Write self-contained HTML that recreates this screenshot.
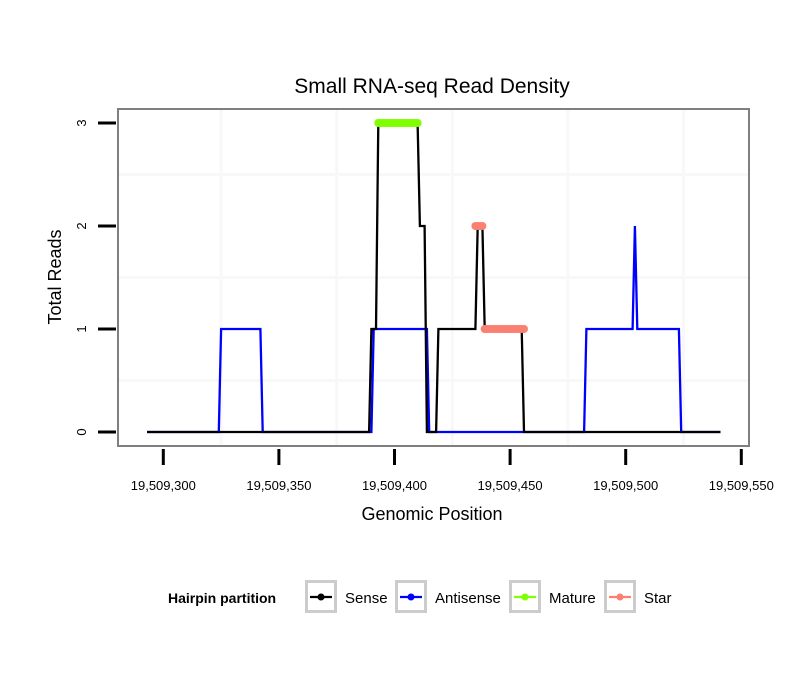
<!DOCTYPE html>
<html><head><meta charset="utf-8"><style>
body{margin:0;background:#fff;}
svg text{font-family:"Liberation Sans",sans-serif;}
</style></head><body>
<svg id="chart" width="810" height="690" xmlns="http://www.w3.org/2000/svg">
<rect width="810" height="690" fill="#fff"/>
<text x="432" y="93" font-size="21" text-anchor="middle">Small RNA-seq Read Density</text>
<g id="grid"></g>
<g id="series"></g>
<rect x="118" y="109" width="631" height="337" fill="none" stroke="#7f7f7f" stroke-width="2"/>
<g id="axes"></g>
<text x="432" y="520" font-size="18" text-anchor="middle">Genomic Position</text>
<text transform="translate(61,277) rotate(-90)" font-size="18" text-anchor="middle">Total Reads</text>
<g id="legend">
<text x="168" y="603" font-size="14" font-weight="bold">Hairpin partition</text>
</g>
</svg>
<script>
const xTicks=[19509300,19509350,19509400,19509450,19509500,19509550];
const yTicks=[0,1,2,3];
const sensePos=[293,389,390,392,393,410,411,413,414,418,419,435,436,438,439,455,456,541];
const senseVal=[0,0,1,1,3,3,2,2,0,0,1,1,2,2,1,1,0,0];
const antiPos=[293,324,325,342,343,390,391,414,415,482,483,503,504,505,523,524,541];
const antiVal=[0,0,1,1,0,0,1,1,0,0,1,1,2,1,1,0,0];
const maturePos=[393,394,395,396,397,398,399,400,401,402,403,404,405,406,407,408,409,410];
const matureVal=[3,3,3,3,3,3,3,3,3,3,3,3,3,3,3,3,3,3];
const starPos=[435,436,437,438,439,440,441,442,443,444,445,446,447,448,449,450,451,452,453,454,455,456];
const starVal=[2,2,2,2,1,1,1,1,1,1,1,1,1,1,1,1,1,1,1,1,1,1];
const legendLabels=["Sense","Antisense","Mature","Star"];
const legendColors=["#000000","#0000ff","#7fff00","#fa8072"];
const base=19509000;
function xs(p){return 163.3+(p-300)*2.312;}
function ys(v){return 432-v*103;}
const NS="http://www.w3.org/2000/svg";
function mk(tag,attrs,parent){const e=document.createElementNS(NS,tag);for(const k in attrs)e.setAttribute(k,attrs[k]);parent.appendChild(e);return e;}
const grid=document.getElementById('grid');
for(let i=0;i<xTicks.length-1;i++){
  const gx=xs((xTicks[i]+xTicks[i+1])/2-base);
  const l=mk('line',{x1:gx,x2:gx,y1:110,y2:445,stroke:'#f8f8f8','stroke-width':3},grid);
  
  
}
for(let i=0;i<yTicks.length-1;i++){
  const gy=ys((yTicks[i]+yTicks[i+1])/2);
  const l=mk('line',{x1:119,x2:748,y1:gy,y2:gy,stroke:'#f8f8f8','stroke-width':3},grid);
  
  
}
const axes=document.getElementById('axes');
xTicks.forEach(t=>{
  const x=xs(t-base);
  const l=mk('line',{x1:x,x2:x,y1:449,y2:465,stroke:'#000','stroke-width':3},axes);
  
  
  const tx=mk('text',{x:x,y:490,'font-size':13,'text-anchor':'middle'},axes);
  tx.textContent=t.toLocaleString('en-US');
  
  
});
yTicks.forEach(t=>{
  const y=ys(t);
  const l=mk('line',{x1:98,x2:116,y1:y,y2:y,stroke:'#000','stroke-width':3},axes);
  
  
  const tx=mk('text',{x:0,y:0,'font-size':13,'text-anchor':'middle',transform:`translate(86,${y}) rotate(-90)`},axes);
  tx.textContent=t;
  
  
});
const series=document.getElementById('series');
function line(pos,val,color,name){
  const d=pos.map((p,i)=>(i?'L':'M')+xs(p).toFixed(1)+','+ys(val[i]).toFixed(1)).join('');
  const e=mk('path',{d:d,fill:'none',stroke:color,'stroke-width':2.3},series);
  
  
}
line(antiPos,antiVal,'#0000ff','antisense-line');
line(sensePos,senseVal,'#000000','sense-line');
function dots(pos,val,color,name){
  pos.forEach((p,i)=>{
    const c=mk('circle',{cx:xs(p),cy:ys(val[i]),r:4,fill:color},series);
    
    
  });
}
dots(maturePos,matureVal,'#7fff00','mature-point');
dots(starPos,starVal,'#fa8072','star-point');
const legend=document.getElementById('legend');
const boxX=[305,395,509,604];
legendLabels.forEach((lab,i)=>{
  const bx=boxX[i];
  const r=mk('rect',{x:bx+1.5,y:581.5,width:29,height:30,fill:'#fff',stroke:'#cccccc','stroke-width':3},legend);
  
  
  const l=mk('line',{x1:bx+5,x2:bx+27,y1:597,y2:597,stroke:legendColors[i],'stroke-width':2.3},legend);
  
  
  const c=mk('circle',{cx:bx+16,cy:597,r:3.5,fill:legendColors[i]},legend);
  
  
  const t=mk('text',{x:bx+40,y:603,'font-size':15},legend);
  t.textContent=lab;
  
  
});
</script>
</body></html>
